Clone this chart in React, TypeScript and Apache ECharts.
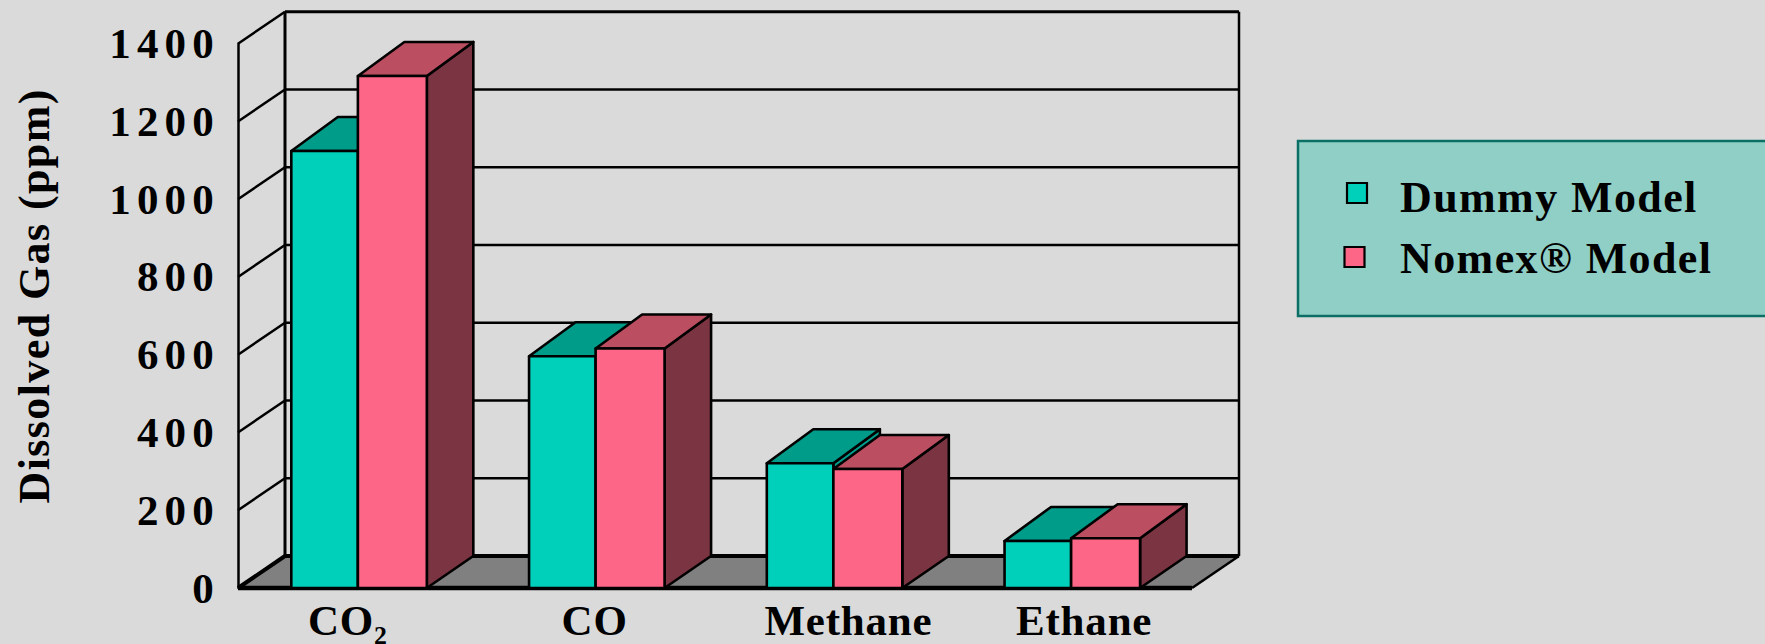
import React, { useEffect, useRef } from "react";
import * as echarts from "echarts";

// Gas categories and measured concentrations in ppm
const categories = ["CO₂", "CO", "Methane", "Ethane"];
const dummyValues = [1124, 596, 321, 121];
const nomexValues = [1317, 616, 306, 128];
const yTicks = [0, 200, 400, 600, 800, 1000, 1200, 1400];
const seriesNames = ["Dummy Model", "Nomex® Model"];
const axisTitle = "Dissolved Gas (ppm)";

// The category captions are hand-placed: [dx, top padding]
const labelNudges = [
  [-10, 11],
  [-1, 11.5],
  [15, 11.5],
  [13, 11.5],
];

const FONT = '"Liberation Serif", serif';
const BACKGROUND = "#dadada";
const DEPTH_X = 47;
const DEPTH_Y = 32;
const BAR_FRACTIONS = [0.28, 0.29];

const palette = [
  { front: "#00cfb9", top: "#009c8a", side: "#009c8a" },
  { front: "#fd6687", top: "#bc4e62", side: "#7b3441" },
];

const line = (x1: number, y1: number, x2: number, y2: number, width: number) => ({
  type: "line",
  shape: { x1, y1, x2, y2 },
  style: { stroke: "#000", lineWidth: width },
});

const box3d = (seriesIndex: number) => (params: any, api: any) => {
  const cat = api.value(0);
  const [cx, yTop] = api.coord([cat, api.value(1)]);
  const [, yBase] = api.coord([cat, 0]);
  const w = api.size([1, 0])[0] * BAR_FRACTIONS[seriesIndex];
  const x0 = seriesIndex === 0 ? cx - w : cx;
  const x1 = x0 + w;
  const c = palette[seriesIndex];
  const stroke = { stroke: "#000", lineWidth: 2.6, lineJoin: "round" };
  const dx = DEPTH_X - 0.5;
  const dyTop = DEPTH_Y + 2;
  return {
    type: "group",
    children: [
      {
        type: "polygon",
        shape: { points: [[x1, yTop], [x1 + dx, yTop - dyTop], [x1 + dx, yBase - DEPTH_Y], [x1, yBase]] },
        style: { fill: c.side, ...stroke },
      },
      {
        type: "polygon",
        shape: { points: [[x0, yTop], [x0 + dx, yTop - dyTop], [x1 + dx, yTop - dyTop], [x1, yTop]] },
        style: { fill: c.top, ...stroke },
      },
      {
        type: "rect",
        shape: { x: x0, y: yTop, width: w, height: yBase - yTop },
        style: { fill: c.front, ...stroke },
      },
    ],
  };
};

// Back wall lines, side-wall diagonals and the grey floor
const frame = (params: any, api: any) => {
  const v = api.value(1);
  const y = api.coord([0, v])[1];
  const cs = params.coordSys;
  const left = cs.x - 1;
  const right = cs.x + cs.width + 2;
  const backL = left + DEPTH_X;
  const backR = right + DEPTH_X;
  const children: any[] = [];
  if (v === 0) {
    children.push({
      type: "polygon",
      shape: { points: [[left, y], [backL, y - DEPTH_Y], [backR, y - DEPTH_Y], [right, y]] },
      style: { fill: "#808080", stroke: "none" },
    });
    children.push(line(left, y, right, y, 4.5));
    children.push(line(backL, y - DEPTH_Y, backR, y - DEPTH_Y, 4));
    children.push(line(left, y, backL, y - DEPTH_Y, 4));
    children.push(line(right, y, backR, y - DEPTH_Y, 2.5));
    const topY = api.coord([0, 1400])[1] - DEPTH_Y;
    children.push(line(backL, topY, backL, y - DEPTH_Y, 3));
    children.push(line(backR, topY, backR, y - DEPTH_Y, 2.5));
  } else {
    children.push(line(left, y, backL, y - DEPTH_Y, 2.5));
    children.push(line(backL, y - DEPTH_Y, backR, y - DEPTH_Y, v === 1400 ? 3 : 2.5));
  }
  return { type: "group", children };
};

const legendGraphic = () => {
  const markers = [
    { x: 1347, y: 183 },
    { x: 1344.5, y: 247 },
  ];
  const textY = [197, 258];
  const children: any[] = [
    {
      type: "rect",
      shape: { x: 1298, y: 141, width: 480, height: 175 },
      style: { fill: "#90cfc6", stroke: "#0b6f66", lineWidth: 2.5 },
    },
  ];
  seriesNames.forEach((name, i) => {
    children.push({
      type: "rect",
      shape: { x: markers[i].x, y: markers[i].y, width: 20, height: 20 },
      style: { fill: palette[i].front, stroke: "#000", lineWidth: 2.2 },
    });
    children.push({
      type: "text",
      x: 1400,
      y: textY[i],
      style: {
        text: name,
        font: `bold 44px ${FONT}`,
        fill: "#000",
        align: "left",
        verticalAlign: "middle",
      },
    });
  });
  return { type: "group", children };
};

// Bold captions are tracked out a little; digits more than the words
const applyTracking = (root: HTMLElement) => {
  root.querySelectorAll("svg text").forEach((node) => {
    const content = node.textContent || "";
    let spacing = "1.4px";
    if (/^\d+$/.test(content)) spacing = "6.2px";
    else if (categories.includes(content)) spacing = "0.8px";
    (node as SVGTextElement).style.letterSpacing = spacing;
  });
};

export default function App() {
  const ref = useRef<HTMLDivElement>(null);

  useEffect(() => {
    document.body.style.margin = "0";
    document.body.style.background = BACKGROUND;
    const el = ref.current as HTMLDivElement;
    const chart = echarts.init(el, undefined, { renderer: "svg" });
    chart.setOption({
      animation: false,
      backgroundColor: BACKGROUND,
      textStyle: { fontFamily: FONT },
      grid: { left: 239, top: 43.7, width: 951, height: 544.3 },
      graphic: [legendGraphic()],
      xAxis: {
        type: "category",
        data: categories.map((value, i) => ({
          value,
          textStyle: {
            // A tight line box keeps the captions inside the page's lower edge
            lineHeight: 36,
            padding: [
              labelNudges[i][1],
              Math.max(-labelNudges[i][0], 0) * 2,
              0,
              Math.max(labelNudges[i][0], 0) * 2,
            ],
          },
        })),
        axisLine: { show: false },
        axisTick: { show: false },
        splitLine: { show: false },
        axisLabel: {
          interval: 0,
          margin: 3,
          fontFamily: FONT,
          fontWeight: "bold",
          fontSize: 43,
          color: "#000",
          verticalAlign: "top",
        },
      },
      yAxis: {
        type: "value",
        min: 0,
        max: 1400,
        interval: 200,
        offset: 1,
        name: axisTitle,
        nameLocation: "middle",
        nameRotate: 90,
        nameGap: 182,
        nameTextStyle: {
          fontFamily: FONT,
          fontWeight: "bold",
          fontSize: 44,
          color: "#000",
          padding: [0, 0, 0, 40],
        },
        axisLine: { show: true, onZero: false, lineStyle: { color: "#000", width: 2.5 } },
        axisTick: { show: false },
        splitLine: { show: false },
        axisLabel: {
          margin: 18,
          formatter: (value: number) => String(value),
          fontFamily: FONT,
          fontWeight: "bold",
          fontSize: 43,
          color: "#000",
          padding: [13, 0, 0, 0],
        },
      },
      series: [
        {
          type: "custom",
          name: "frame",
          z: 1,
          silent: true,
          renderItem: frame,
          data: yTicks.map((v) => [0, v]),
        },
        {
          type: "custom",
          name: seriesNames[0],
          z: 2,
          renderItem: box3d(0),
          data: dummyValues.map((v, i) => [i, v]),
        },
        {
          type: "custom",
          name: seriesNames[1],
          z: 3,
          renderItem: box3d(1),
          data: nomexValues.map((v, i) => [i, v]),
        },
      ],
    });
    applyTracking(el);
    chart.on("finished", () => applyTracking(el));
    return () => chart.dispose();
  }, []);

  return (
    <div
      ref={ref}
      style={{ position: "fixed", left: 0, top: 0, width: 1765, height: 644 }}
    />
  );
}
